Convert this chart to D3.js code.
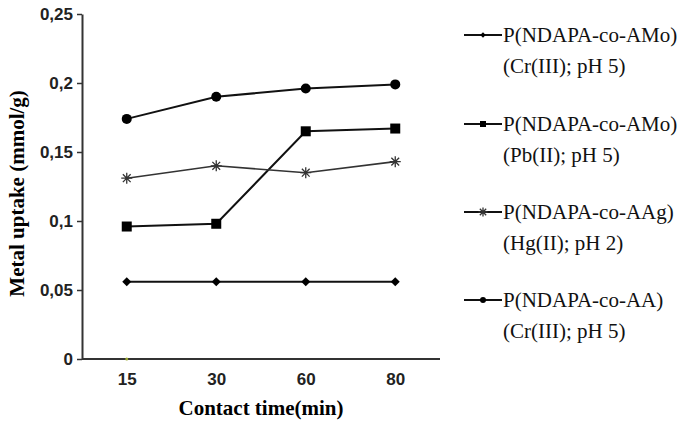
<!DOCTYPE html>
<html>
<head>
<meta charset="utf-8">
<script src="https://cdn.jsdelivr.net/npm/d3@7"></script>
<style>
  body { margin: 0; background: #fff; }
</style>
</head>
<body>
<div id="chart"></div>
<script>
// Contact time categories (x axis)
const times = ["15", "30", "60", "80"];
const yTicks = [0, 0.05, 0.1, 0.15, 0.2, 0.25];

// Series values (mmol/g)
const amoCr = [0.056, 0.056, 0.056, 0.056];
const amoPb = [0.096, 0.098, 0.165, 0.167];
const aagHg = [0.131, 0.140, 0.135, 0.143];
const aaCr = [0.174, 0.190, 0.196, 0.199];

const seriesNames = [
  ["P(NDAPA-co-AMo)", "(Cr(III); pH 5)"],
  ["P(NDAPA-co-AMo)", "(Pb(II); pH 5)"],
  ["P(NDAPA-co-AAg)", "(Hg(II); pH 2)"],
  ["P(NDAPA-co-AA)", "(Cr(III); pH 5)"]
];
const seriesValues = [amoCr, amoPb, aagHg, aaCr];
const seriesSymbols = ["diamond", "square", "star", "circle"];

const width = 691, height = 422;
const margin = { top: 14, left: 82, right: 251, bottom: 63 };

const svg = d3.select("#chart")
  .append("svg")
  .attr("width", width)
  .attr("height", height);

// Scales
const x = d3.scalePoint()
  .domain(times)
  .range([margin.left, width - margin.right])
  .padding(0.5);

const y = d3.scaleLinear()
  .domain([0, 0.25])
  .range([height - margin.bottom, margin.top]);

const fmt = d => d === 0 ? "0" : String(d).replace(".", ",");

// y axis
const yAxis = svg.append("g")
  .attr("transform", `translate(${margin.left},0)`)
  .call(d3.axisLeft(y).tickValues(yTicks).tickFormat(fmt).tickSize(5).tickSizeOuter(0));
yAxis.select(".domain").attr("stroke", "#333").attr("stroke-width", 2);
yAxis.selectAll(".tick line").attr("stroke", "#333").attr("stroke-width", 1.5);
yAxis.selectAll(".tick text")
  .attr("x", -9)
  .style("font-family", "'Liberation Sans', Arial, sans-serif")
  .style("font-size", "17px")
  .style("font-weight", "bold")
  .attr("fill", "#222");

// x axis (no tick marks)
const xAxis = svg.append("g")
  .attr("transform", `translate(0,${y(0)})`)
  .call(d3.axisBottom(x).tickSize(0).tickPadding(14));
xAxis.select(".domain")
  .attr("d", `M${margin.left},0H${width - margin.right}`)
  .attr("stroke", "#333").attr("stroke-width", 2);
xAxis.selectAll(".tick text")
  .style("font-family", "'Liberation Sans', Arial, sans-serif")
  .style("font-size", "17px")
  .style("font-weight", "bold")
  .attr("fill", "#222");

// Axis titles
svg.append("text")
  .attr("x", (margin.left + width - margin.right) / 2)
  .attr("y", 415)
  .attr("text-anchor", "middle")
  .style("font-family", "'Liberation Serif', 'Times New Roman', serif")
  .style("font-size", "21px")
  .style("font-weight", "bold")
  .text("Contact time(min)");

svg.append("text")
  .attr("transform", `translate(24,${y(0.12)}) rotate(-90)`)
  .attr("text-anchor", "middle")
  .style("font-family", "'Liberation Serif', 'Times New Roman', serif")
  .style("font-size", "21px")
  .style("font-weight", "bold")
  .text("Metal uptake (mmol/g)");

// Marker drawing helper
function drawMarker(g, type, cx, cy, small) {
  const k = small ? 0.6 : 1;
  if (type === "circle") {
    g.append("circle").attr("cx", cx).attr("cy", cy).attr("r", 5 * k).attr("fill", "#000");
  } else if (type === "square") {
    const s = 10 * k;
    g.append("rect").attr("x", cx - s / 2).attr("y", cy - s / 2)
      .attr("width", s).attr("height", s).attr("fill", "#000");
  } else if (type === "diamond") {
    const r = 4.5 * k;
    g.append("path")
      .attr("d", `M${cx},${cy - r}L${cx + r},${cy}L${cx},${cy + r}L${cx - r},${cy}Z`)
      .attr("fill", "#000");
  } else if (type === "star") {
    const r = (small ? 4.5 : 5.5);
    const d = [0, 45, 90, 135].map(a => {
      const rad = a * Math.PI / 180;
      return `M${cx - r * Math.cos(rad)},${cy - r * Math.sin(rad)}L${cx + r * Math.cos(rad)},${cy + r * Math.sin(rad)}`;
    }).join("");
    g.append("path").attr("d", d).attr("stroke", "#333").attr("stroke-width", 1.3);
  }
}

// Lines and markers
const line = d3.line()
  .x((d, i) => x(times[i]))
  .y(d => y(d));

seriesValues.forEach((vals, si) => {
  const g = svg.append("g");
  const isStar = seriesSymbols[si] === "star";
  g.append("path")
    .datum(vals)
    .attr("d", line)
    .attr("fill", "none")
    .attr("stroke", isStar ? "#333" : "#111")
    .attr("stroke-width", isStar ? 1.6 : 2);
  vals.forEach((v, i) => drawMarker(g, seriesSymbols[si], x(times[i]), y(v), false));
});

// stray dot on the axis at 15 in the original
svg.append("circle")
  .attr("cx", x("15")).attr("cy", y(0)).attr("r", 1.5)
  .attr("fill", "#9aa832");

// Legend
const legendY = [35, 124, 212, 300];
const legend = svg.append("g");
seriesNames.forEach((names, i) => {
  const ly = legendY[i];
  legend.append("line")
    .attr("x1", 464).attr("x2", 502)
    .attr("y1", ly).attr("y2", ly)
    .attr("stroke", "#111").attr("stroke-width", 2);
  drawMarker(legend, seriesSymbols[i], 483, ly, true);
  const t = legend.append("text")
    .attr("x", 503)
    .attr("y", ly + 7)
    .style("font-family", "'Liberation Serif', 'Times New Roman', serif")
    .style("font-size", "21px")
    .attr("fill", "#111");
  t.append("tspan").attr("x", 503).text(names[0]);
  t.append("tspan").attr("x", 503).attr("dy", 31).text(names[1]);
});
</script>
</body>
</html>
